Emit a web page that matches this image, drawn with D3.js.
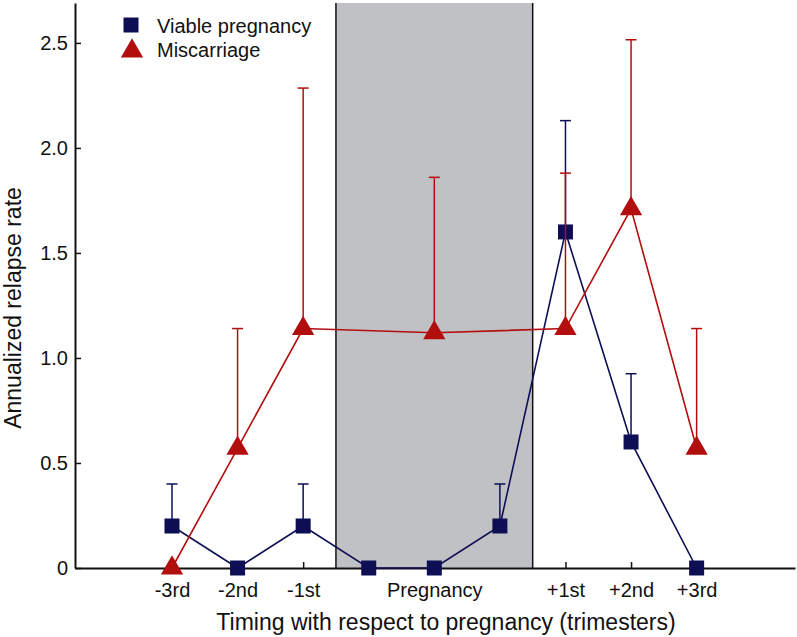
<!DOCTYPE html>
<html>
<head>
<meta charset="utf-8">
<script src="https://cdn.jsdelivr.net/npm/d3@7"></script>
<style>
  html, body { margin: 0; padding: 0; background: #fff; }
  svg { display: block; font-family: "Liberation Sans", Arial, sans-serif; }
</style>
</head>
<body>
<svg id="chart" width="797" height="637"></svg>
<script>
// ---- data ----
const categories = ["-3rd", "-2nd", "-1st", "P1", "P2", "P3", "+1st", "+2nd", "+3rd"];
const xTickLabels = ["-3rd", "-2nd", "-1st", "Pregnancy", "+1st", "+2nd", "+3rd"];
const xTickIndex = [0, 1, 2, 4, 6, 7, 8];
const viableIndex = [0, 1, 2, 3, 4, 5, 6, 7, 8];
const viableValues = [0.2, 0, 0.2, 0, 0, 0.2, 1.6, 0.6, 0];
const viableUpper = [0.4, null, 0.4, null, null, 0.4, 2.13, 0.925, null];
const miscIndex = [0, 1, 2, 4, 6, 7, 8];
const miscValues = [0, 0.57, 1.14, 1.12, 1.14, 1.71, 0.57];
const miscUpper = [null, 1.14, 2.285, 1.86, 1.88, 2.515, 1.14];
const yTicks = [0, 0.5, 1.0, 1.5, 2.0, 2.5];
const yTickLabels = ["0", "0.5", "1.0", "1.5", "2.0", "2.5"];
const pregnancySpan = [2.5, 5.5];
const seriesNames = ["Viable pregnancy", "Miscarriage"];

const navy = "#0e0e55";
const red = "#b30e0e";

const svg = d3.select("#chart");
const x = d3.scaleLinear().domain([-1.479, 9.5]).range([75, 795]);
const y = d3.scaleLinear().domain([0, 2.69]).range([568, 3]);

// pregnancy shading
svg.append("rect")
  .attr("x", x(pregnancySpan[0])).attr("y", y(2.69))
  .attr("width", x(pregnancySpan[1]) - x(pregnancySpan[0]))
  .attr("height", y(0) - y(2.69))
  .attr("fill", "#c0c1c4");
pregnancySpan.forEach(v => {
  svg.append("line")
    .attr("x1", x(v)).attr("x2", x(v))
    .attr("y1", y(2.69)).attr("y2", y(0))
    .attr("stroke", "#111").attr("stroke-width", 1.5);
});

// axes
const xAxis = d3.axisBottom(x)
  .tickValues(xTickIndex)
  .tickFormat((d, i) => xTickLabels[i])
  .tickSizeInner(-6).tickSizeOuter(0).tickPadding(15);
const gx = svg.append("g").attr("transform", `translate(0,${y(0)})`).call(xAxis);
gx.select(".domain").attr("stroke", "#111").attr("stroke-width", 2);
gx.selectAll(".tick line").attr("stroke", "#111").attr("stroke-width", 1.5)
  .filter(d => d === 4).remove();
gx.selectAll(".tick text").attr("font-size", 20).attr("fill", "#111")
  .attr("font-family", "Liberation Sans, Arial, sans-serif");

const yAxis = d3.axisLeft(y)
  .tickValues(yTicks)
  .tickFormat((d, i) => yTickLabels[i])
  .tickSizeInner(-6).tickSizeOuter(0).tickPadding(7);
const gy = svg.append("g").attr("transform", `translate(${x(-1.479)},0)`).call(yAxis);
gy.select(".domain").attr("stroke", "#111").attr("stroke-width", 2);
gy.selectAll(".tick line").attr("stroke", "#111").attr("stroke-width", 1.5);
gy.selectAll(".tick text").attr("font-size", 20).attr("fill", "#111")
  .attr("font-family", "Liberation Sans, Arial, sans-serif");

// axis titles
svg.append("text")
  .attr("x", 446).attr("y", 630)
  .attr("text-anchor", "middle").attr("font-size", 23).attr("fill", "#111")
  .text("Timing with respect to pregnancy (trimesters)");
svg.append("text")
  .attr("transform", "translate(21,308) rotate(-90)")
  .attr("text-anchor", "middle").attr("font-size", 23).attr("fill", "#111")
  .text("Annualized relapse rate");

// series drawer
function drawSeries(idx, vals, upper, color, symbolType, symbolSize) {
  const g = svg.append("g");
  const pts = idx.map((d, i) => ({ xi: d, v: vals[i], u: upper[i] }));
  // error bars
  pts.filter(p => p.u != null).forEach(p => {
    g.append("line")
      .attr("x1", x(p.xi)).attr("x2", x(p.xi))
      .attr("y1", y(p.v)).attr("y2", y(p.u))
      .attr("stroke", color).attr("stroke-width", 1.5);
    g.append("line")
      .attr("x1", x(p.xi) - 5.5).attr("x2", x(p.xi) + 5.5)
      .attr("y1", y(p.u)).attr("y2", y(p.u))
      .attr("stroke", color).attr("stroke-width", 1.5);
  });
  // line
  g.append("path")
    .datum(pts)
    .attr("fill", "none").attr("stroke", color).attr("stroke-width", 1.6)
    .attr("d", d3.line().x(p => x(p.xi)).y(p => y(p.v)));
  // markers
  g.selectAll("path.m").data(pts).enter().append("path")
    .attr("class", "m")
    .attr("transform", p => `translate(${x(p.xi)},${y(p.v)})`)
    .attr("d", d3.symbol().type(symbolType).size(symbolSize))
    .attr("fill", color);
}

drawSeries(viableIndex, viableValues, viableUpper, navy, d3.symbolSquare, 225);
drawSeries(miscIndex, miscValues, miscUpper, red, d3.symbolTriangle, 215);

// legend
const legend = svg.append("g");
legend.append("path")
  .attr("transform", "translate(131,25)")
  .attr("d", d3.symbol().type(d3.symbolSquare).size(225))
  .attr("fill", navy);
legend.append("text").attr("x", 157).attr("y", 33)
  .attr("font-size", 20).attr("fill", "#111").text(seriesNames[0]);
legend.append("path")
  .attr("transform", "translate(132,51)")
  .attr("d", d3.symbol().type(d3.symbolTriangle).size(215))
  .attr("fill", red);
legend.append("text").attr("x", 157).attr("y", 57)
  .attr("font-size", 20).attr("fill", "#111").text(seriesNames[1]);
</script>
</body>
</html>
